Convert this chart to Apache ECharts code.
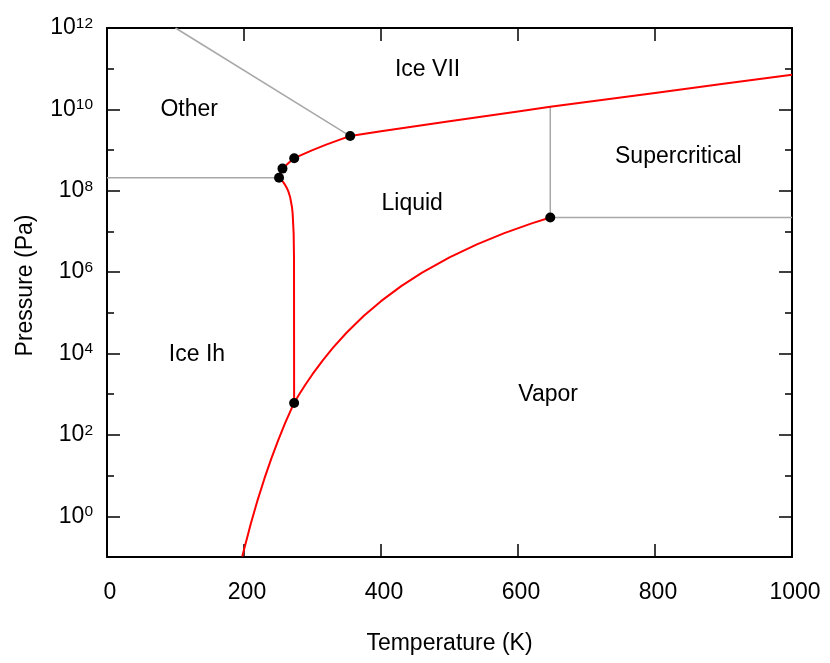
<!DOCTYPE html>
<html>
<head>
<meta charset="utf-8">
<script src="https://cdn.jsdelivr.net/npm/echarts@6/dist/echarts.min.js"></script>
<style>
html,body{margin:0;padding:0;background:#fff;}
#chart{width:830px;height:663px;}
</style>
</head>
<body>
<div id="chart"></div>
<script>
// ---- tick labels ----
const xTickInterval = 200;
const yMajorExponents = [0, 2, 4, 6, 8, 10, 12];
const yMinorExponents = [1, 3, 5, 7, 9, 11];

// ---- sublimation curve (Ice Ih / Vapor) : T (K), P (Pa) ----
const sublimationT = [197.5, 200, 210, 220, 230, 240, 250, 260, 270, 273.16];
const sublimationP = [0.1024, 0.1516, 0.6635, 2.539, 8.645, 26.58, 74.70, 193.9, 469.0, 611.657];

// ---- vaporization curve (Liquid / Vapor) ----
const vaporT = [273.16, 280, 290, 300, 315, 330, 350, 375, 400, 430, 460, 500, 540, 580, 620, 647.096];
const vaporP = [611.657, 953.2, 1755.8, 3105.5, 6824, 13962, 32962, 84794, 193847, 460484, 977184,
                2.3155e6, 4.8285e6, 9.0982e6, 1.5798e7, 2.2064e7];

// ---- melting curve of Ice Ih ----
const meltIhT = [273.16, 273.0, 272.5, 271, 270, 267.5, 265, 262.5, 260, 257.5, 255, 251.165];
const meltIhP = [611.657, 2.164e6, 8.817e6, 2.791e7, 3.996e7, 6.805e7, 9.363e7, 1.173e8, 1.394e8, 1.603e8, 1.803e8, 2.099e8];

// ---- melting curve of high-pressure ices (III, V, VI, VII) ----
const meltHighT = [251.165, 254, 256.164, 265, 273.31, 300, 320, 340, 355, 400, 500, 600, 647.096, 700, 800, 900, 1000];
const meltHighP = [2.099e8, 2.704e8, 3.501e8, 4.797e8, 6.324e8, 9.96e8, 1.357e9, 1.809e9, 2.216e9,
                   2.9e9, 5.1e9, 8.9e9, 1.16e10, 1.52e10, 2.54e10, 4.24e10, 7.08e10];

// ---- grey boundaries ----
const otherLowT = [0, 251.165];
const otherLowP = [2.099e8, 2.099e8];
const otherHighT = [100, 355];
const otherHighP = [1e12, 2.216e9];
const superVertT = [647.096, 647.096];
const superVertP = [2.2064e7, 1.16e10];
const superHorizT = [647.096, 1000];
const superHorizP = [2.2064e7, 2.2064e7];

// ---- triple points & critical point ----
const pointT = [273.16, 251.165, 256.164, 273.31, 355, 647.096];
const pointP = [611.657, 2.099e8, 3.501e8, 6.324e8, 2.216e9, 2.2064e7];

// ---- region labels ----
const regionNames = ['Ice VII', 'Other', 'Supercritical', 'Liquid', 'Ice Ih', 'Vapor'];
const regionT = [468, 120, 834, 445.5, 131.3, 644];
const regionP = [9.25e10, 9.6e9, 6.84e8, 4.76e7, 9.2e3, 1.0e3];

// ---------------------------------------------------------------
const FONT = '"Liberation Sans", Arial, Helvetica, sans-serif';
const FS = 23;
const pairs = (xs, ys) => xs.map((x, i) => [x, ys[i]]);
const redLine = (name, xs, ys) => ({
  type: 'line', name, xAxisIndex: 0, yAxisIndex: 0, data: pairs(xs, ys),
  symbol: 'none', showSymbol: false, clip: true, silent: true, z: 3,
  lineStyle: { color: '#ff0000', width: 2, opacity: 1 }
});
const greyLine = (name, xs, ys) => ({
  type: 'line', name, xAxisIndex: 0, yAxisIndex: 0, data: pairs(xs, ys),
  symbol: 'none', showSymbol: false, clip: true, silent: true, z: 2,
  lineStyle: { color: '#a8a8a8', width: 1.5, opacity: 1 }
});
const axisLineStyle = { onZero: false, show: true, lineStyle: { color: '#000', width: 2 } };
const tickStyle = { color: '#000', width: 1.5 };

const option = {
  animation: false,
  backgroundColor: '#fff',
  grid: { left: 107, right: 38, top: 28, bottom: 106, containLabel: false, outerBoundsMode: 'none' },
  xAxis: [
    {
      type: 'value', position: 'bottom', min: 0, max: 1000, interval: xTickInterval,
      name: 'Temperature (K)', nameLocation: 'middle', nameGap: 75,
      nameTextStyle: { fontSize: FS, color: '#000', fontFamily: FONT },
      axisLine: axisLineStyle,
      axisTick: { inside: true, length: 13, lineStyle: tickStyle },
      axisLabel: { margin: 24, fontSize: FS, color: '#000', fontFamily: FONT, padding: [0, 0, 0, 6],
                   formatter: v => String(v) },
      splitLine: { show: false }
    },
    {
      type: 'value', position: 'top', min: 0, max: 1000, interval: xTickInterval,
      axisLine: axisLineStyle,
      axisTick: { inside: true, length: 13, lineStyle: tickStyle },
      axisLabel: { show: false },
      splitLine: { show: false }
    }
  ],
  yAxis: [
    { type: 'log', logBase: 10, position: 'left', min: 0.1, max: 1e12, show: false },
    {
      type: 'value', position: 'left', min: -1, max: 12,
      name: 'Pressure (Pa)', nameLocation: 'middle', nameGap: 70,
      nameTextStyle: { fontSize: FS, color: '#000', fontFamily: FONT, padding: [0, 0, 0, 14] },
      axisLine: axisLineStyle,
      axisTick: { inside: true, length: 13, customValues: yMajorExponents, lineStyle: tickStyle },
      axisLabel: {
        customValues: yMajorExponents, margin: 14,
        formatter: v => '{b|10}{s|' + v + '}',
        rich: {
          b: { fontSize: FS, lineHeight: 25, color: '#000', fontFamily: FONT },
          s: { fontSize: 15.5, lineHeight: 15, color: '#000', fontFamily: FONT, verticalAlign: 'top' }
        }
      },
      splitLine: { show: false }
    },
    {
      type: 'value', position: 'left', min: -1, max: 12,
      axisLine: { onZero: false, show: false },
      axisTick: { inside: true, length: 7, customValues: yMinorExponents, lineStyle: tickStyle },
      axisLabel: { show: false }, splitLine: { show: false }
    },
    {
      type: 'value', position: 'right', min: -1, max: 12,
      axisLine: axisLineStyle,
      axisTick: { inside: true, length: 13, customValues: yMajorExponents, lineStyle: tickStyle },
      axisLabel: { show: false }, splitLine: { show: false }
    },
    {
      type: 'value', position: 'right', min: -1, max: 12,
      axisLine: { onZero: false, show: false },
      axisTick: { inside: true, length: 7, customValues: yMinorExponents, lineStyle: tickStyle },
      axisLabel: { show: false }, splitLine: { show: false }
    }
  ],
  series: [
    greyLine('Other (low)', otherLowT, otherLowP),
    greyLine('Other (high)', otherHighT, otherHighP),
    greyLine('Supercritical (vertical)', superVertT, superVertP),
    greyLine('Supercritical (horizontal)', superHorizT, superHorizP),
    redLine('Sublimation', sublimationT, sublimationP),
    redLine('Vaporization', vaporT, vaporP),
    redLine('Melting Ih', meltIhT, meltIhP),
    redLine('Melting high-pressure ices', meltHighT, meltHighP),
    {
      type: 'scatter', name: 'Points', xAxisIndex: 0, yAxisIndex: 0, data: pairs(pointT, pointP),
      symbol: 'circle', symbolSize: 10, itemStyle: { color: '#000', opacity: 1 }, silent: true, z: 5
    },
    {
      type: 'scatter', name: 'Regions', xAxisIndex: 0, yAxisIndex: 0, silent: true, z: 6,
      data: regionNames.map((n, i) => ({ name: n, value: [regionT[i], regionP[i]] })),
      symbolSize: 1, itemStyle: { color: 'rgba(255,255,255,0)', opacity: 1 },
      label: { show: true, position: 'inside', formatter: '{b}', fontSize: FS, color: '#000',
               fontFamily: FONT, opacity: 1, textBorderWidth: 0 },
      labelLayout: { hideOverlap: false }
    }
  ]
};

const chart = echarts.init(document.getElementById('chart'), null, { renderer: 'canvas' });
chart.setOption(option);
</script>
</body>
</html>
